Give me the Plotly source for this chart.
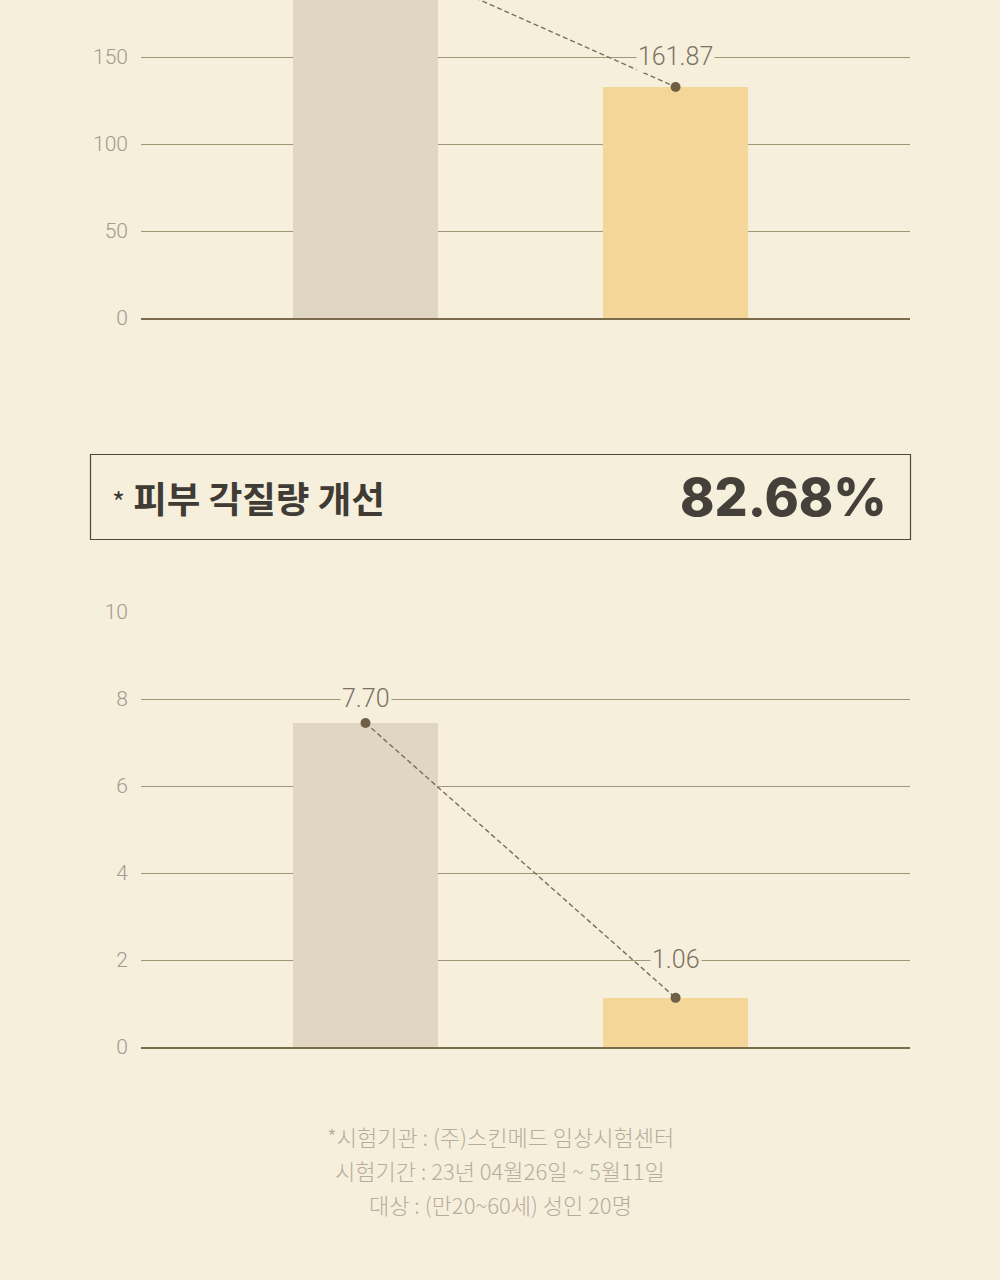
import plotly.graph_objects as go

# ---- data ----
groups = ["사용 전", "사용 후"]
top_values = [212.0, 132.8]          # bar heights (left bar cropped)
top_labels = [None, "161.87"]
bottom_values = [7.45, 1.13]
bottom_labels = ["7.70", "1.06"]
top_ticks = [0, 50, 100, 150]
bottom_ticks = [0, 2, 4, 6, 8, 10]
headline = "피부 각질량 개선"
headline_value = "82.68%"
footnotes = ["*시험기관 : (주)스킨메드 임상시험센터",
             "시험기간 : 23년 04월26일 ~ 5월11일",
             "대상 : (만20~60세) 성인 20명"]

# ---- style ----
BG = "#f5efdc"
BAR_COLORS = ["#e0d6c1", "#f3d698"]
DOT = "#6f5f45"
GRID = "#a39677"
AXIS = "#7a6b4c"
TICK = "#a39b8c"
LABEL = "#7b7265"
W, H = 1000, 1280
xpos = [0, 1]
xrange = [-0.724, 1.756]
top_label_shift = [30, 30]
bottom_label_shift = [24, 38]

fig = go.Figure()

def add_chart(vals, labels, shifts, xa, ya):
    fig.add_trace(go.Bar(x=xpos, y=vals, width=0.468, marker=dict(color=BAR_COLORS, line_width=0),
                         xaxis=xa, yaxis=ya, showlegend=False, hoverinfo="skip"))
    fig.add_trace(go.Scatter(x=xpos, y=vals, mode="lines+markers",
                             line=dict(color="#7a6e5e", width=1.4, dash="5px,3px"),
                             marker=dict(color=DOT, size=10),
                             xaxis=xa, yaxis=ya, showlegend=False, cliponaxis=True, hoverinfo="skip"))
    for xv, v, lab, sh in zip(xpos, vals, labels, shifts):
        if lab is None:
            continue
        fig.add_annotation(x=xv, y=v, xref=xa, yref=ya, text=lab, showarrow=False,
                           yshift=sh, bgcolor=BG, borderpad=1,
                           font=dict(family="Roboto", size=25, color=LABEL, weight=300))

add_chart(top_values, top_labels, top_label_shift, "x", "y")
add_chart(bottom_values, bottom_labels, bottom_label_shift, "x2", "y2")

axis_common = dict(showgrid=True, gridcolor=GRID, gridwidth=1, zeroline=False, automargin=False,
                   tickfont=dict(family="Roboto", size=21, color=TICK, weight=300),
                   ticks="", ticklabelstandoff=12)
xcommon = dict(domain=[141 / W, 910 / W], range=xrange, showticklabels=False, showgrid=False,
               zeroline=False, showline=True, linecolor=AXIS, linewidth=2, automargin=False)

fig.update_layout(
    width=W, height=H, paper_bgcolor=BG, plot_bgcolor=BG,
    margin=dict(l=0, r=0, t=0, b=0, pad=0, autoexpand=False), bargap=0,
    xaxis=dict(anchor="y", **xcommon),
    xaxis2=dict(anchor="y2", **xcommon),
    yaxis=dict(domain=[(H - 318) / H, 1.0], range=[0, 182.76], tickvals=top_ticks,
               anchor="x", **axis_common),
    yaxis2=dict(domain=[(H - 1047) / H, (H - 612) / H], range=[0, 10], tickvals=bottom_ticks,
                anchor="x2", **axis_common),
)

# headline box
fig.add_shape(type="rect", xref="paper", yref="paper",
              x0=90.5 / W, x1=910.5 / W, y0=(H - 539.5) / H, y1=(H - 454.5) / H,
              line=dict(color="#4d463b", width=1.2), fillcolor="rgba(0,0,0,0)")
fig.add_annotation(xref="paper", yref="paper", x=110 / W, y=(H - 497) / H,
                   xanchor="left", yanchor="middle", showarrow=False,
                   text="<span style='font-size:28px'>*</span> <b>" + headline + "</b>",
                   font=dict(family="Noto Sans CJK KR", size=36.5, color="#403b34"))
fig.add_annotation(xref="paper", yref="paper", x=889 / W, y=(H - 497) / H,
                   xanchor="right", yanchor="middle", showarrow=False,
                   text=headline_value,
                   font=dict(family="Inter", size=52, color="#45413a", weight=800))

# footnotes
for i, line in enumerate(footnotes):
    fig.add_annotation(xref="paper", yref="paper", x=0.5, y=(H - (1136 + 34 * i)) / H,
                       xanchor="center", yanchor="middle", showarrow=False, text=line,
                       font=dict(family="Noto Sans CJK KR", size=22, color="#b5ad9d", weight=300))

fig.write_html("out.html")
